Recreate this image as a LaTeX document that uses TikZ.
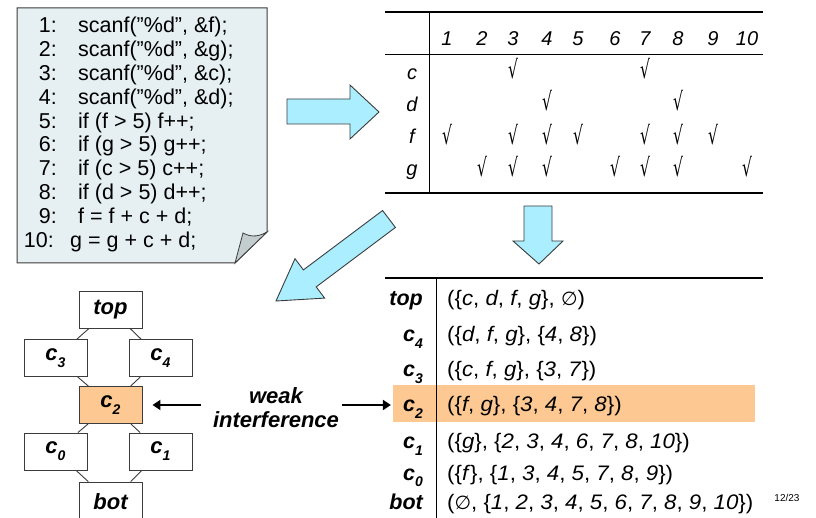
\documentclass[tikz,border=0pt]{standalone}
\usepackage{fontspec}
\setmainfont{Liberation Sans}
\newfontfamily\codefont{Liberation Sans}
\newfontfamily\valfont[FakeStretch=1.06]{Liberation Sans}
\newfontfamily\symfont{DejaVu Sans}
\newfontfamily\chkfont[FakeStretch=0.62]{DejaVu Sans}
\usetikzlibrary{arrows.meta}
\definecolor{boxfill}{RGB}{230,240,242}
\definecolor{flapfill}{RGB}{195,205,206}
\definecolor{arrfill}{RGB}{170,238,255}
\definecolor{hiorange}{RGB}{253,200,145}
\definecolor{edgegray}{RGB}{60,60,60}
\newcommand\lsub[1]{\raisebox{-0.32em}{\fontsize{14}{14}\selectfont #1}}
\newcommand\iv[1]{\textit{#1}}
\newcommand\emptyst{{\symfont\fontsize{19}{19}\selectfont ∅}}
\begin{document}
\begin{tikzpicture}[x=1pt,y=-1pt,
  codenum/.style={anchor=base east, inner sep=0, font=\codefont\fontsize{21.5}{22}\selectfont},
  codeline/.style={anchor=base west, inner sep=0, font=\codefont\fontsize{21.5}{22}\selectfont},
  hdr/.style={anchor=base, inner sep=0, font=\fontsize{20}{20}\selectfont\itshape},
  chkmark/.style={anchor=base, inner sep=0, font=\chkfont\fontsize{25}{25}\selectfont},
  latbox/.style={draw=edgegray, line width=0.9, fill=white, minimum width=63, minimum height=37, inner sep=0, font=\fontsize{22}{22}\selectfont\bfseries\itshape},
  latline/.style={draw=edgegray, line width=0.9},
  tlab/.style={anchor=base east, inner sep=0, font=\fontsize{21.5}{22}\selectfont\bfseries\itshape},
  tval/.style={anchor=base west, inner sep=0, font=\valfont\fontsize{21}{22}\selectfont},
  blockarrow/.style={draw=edgegray, line width=0.9, fill=arrfill, line join=miter},
  warrow/.style={line width=2.6, -{Triangle[length=8,width=10]}},
  thickrule/.style={line width=2},
  thinrule/.style={line width=0.9}
]
\useasboundingbox (0,0) rectangle (816,518);
\clip (0,0) rectangle (816,518);

% ---------- code sheet ----------
\path[draw=edgegray, line width=1, fill=boxfill] (17,8) -- (267,8) -- (267,232) -- (235,263) -- (17,263) -- cycle;
\path[draw=edgegray, line width=0.8, fill=flapfill] (235,263) -- (243,233) .. controls (252,238) and (260,236) .. (267,232) -- cycle;
\foreach \n/\t [count=\i from 0] in {
  1/{scanf(”\%d”, \&f);},
  2/{scanf(”\%d”, \&g);},
  3/{scanf(”\%d”, \&c);},
  4/{scanf(”\%d”, \&d);},
  5/{if (f > 5) f++;},
  6/{if (g > 5) g++;},
  7/{if (c > 5) c++;},
  8/{if (d > 5) d++;},
  9/{f = f + c + d;}} {
  \node[codenum] (num\n) at (57,33+23.8*\i) {\n:};
  \node[codeline] (code\n) at (78,33+23.8*\i) {\t};
}
\node[codenum] (num10) at (54,33+23.8*9) {10:};
\node[codeline] (code10) at (70,33+23.8*9) {g = g + c + d;};

% ---------- block arrows ----------
\path[blockarrow] (287,99) -- (350,99) -- (350,85) -- (379,112) -- (350,139) -- (350,124) -- (287,124) -- cycle;
\path[blockarrow] (524,206) -- (552,206) -- (552,241) -- (563,241) -- (539,264) -- (513,241) -- (524,241) -- cycle;
\path[blockarrow] (382.6,210.5) -- (303.4,269.9) -- (295.0,258.7) -- (276,301) -- (324.6,298.1) -- (316.2,286.9) -- (395.4,227.5) -- cycle;

% ---------- top table ----------
\draw[thickrule] (385,12) -- (763,12);
\draw[thinrule] (385,54) -- (763,54);
\draw[thickrule] (385,193) -- (763,193);
\draw[thinrule] (429,12) -- (429,193);
\foreach \c/\x in {1/447,2/482,3/513,4/547,5/578,6/615,7/645,8/678,9/713,10/747} {
  \node[hdr] (h\c) at (\x,46) {\c};
}
\foreach \r/\y in {c/80,d/112,f/144,g/176} {
  \node[hdr] (r\r) at (412,\y) {\r};
}
\foreach \c in {3,7} { \node[chkmark] (kc\c) at (h\c |- 0,79) {√}; }
\foreach \c in {4,8} { \node[chkmark] (kd\c) at (h\c |- 0,111) {√}; }
\foreach \c in {1,3,4,5,7,8,9} { \node[chkmark] (kf\c) at (h\c |- 0,145) {√}; }
\foreach \c in {2,3,4,6,7,8,10} { \node[chkmark] (kg\c) at (h\c |- 0,177) {√}; }

% ---------- lattice ----------
\node[latbox] (top) at (110.5,309.5) {top};
\node[latbox] (c3) at (55.5,358) {c\lsub{3}};
\node[latbox] (c4) at (160.5,358) {c\lsub{4}};
\node[latbox, fill=hiorange] (c2) at (110.5,405) {c\lsub{2}};
\node[latbox] (c0) at (55.5,451.5) {c\lsub{0}};
\node[latbox] (c1) at (160.5,451.5) {c\lsub{1}};
\node[latbox, minimum height=40] (bot) at (110.5,502) {bot};
\draw[latline] (top) -- (c3);
\draw[latline] (top) -- (c4);
\draw[latline] (c3) -- (c2);
\draw[latline] (c4) -- (c2);
\draw[latline] (c2) -- (c0);
\draw[latline] (c2) -- (c1);
\draw[latline] (c0) -- (bot);
\draw[latline] (c1) -- (bot);

% ---------- weak interference ----------
\node[inner sep=0, align=center, font=\fontsize{22}{24}\selectfont\bfseries\itshape] (wi) at (276,408) {weak\\interference};

% ---------- bottom table ----------
\fill[hiorange] (393,385) rectangle (755,422);
\draw[thickrule] (385,278) -- (763,278);
\draw[thinrule] (436,278) -- (436,520);
\node[tlab] (ltop) at (423,306) {top};
\node[tlab] (lc4) at (423,341.7) {c\lsub{4}};
\node[tlab] (lc3) at (423,376.7) {c\lsub{3}};
\node[tlab] (lc2) at (423,411.7) {c\lsub{2}};
\node[tlab] (lc1) at (423,448.3) {c\lsub{1}};
\node[tlab] (lc0) at (423,480) {c\lsub{0}};
\node[tlab] (lbot) at (423,509.3) {bot};
\node[tval] (vtop) at (447,306) {(\{\iv{c}, \iv{d}, \iv{f}, \iv{g}\}, \emptyst)};
\node[tval] (vc4) at (447,341.7) {(\{\iv{d}, \iv{f}, \iv{g}\}, \{\iv{4}, \iv{8}\})};
\node[tval] (vc3) at (447,376.7) {(\{\iv{c}, \iv{f}, \iv{g}\}, \{\iv{3}, \iv{7}\})};
\node[tval] (vc2) at (447,411.7) {(\{\iv{f}, \iv{g}\}, \{\iv{3}, \iv{4}, \iv{7}, \iv{8}\})};
\node[tval] (vc1) at (447,448.3) {(\{\iv{g}\}, \{\iv{2}, \iv{3}, \iv{4}, \iv{6}, \iv{7}, \iv{8}, \iv{10}\})};
\node[tval] (vc0) at (447,480) {(\{\iv{f}\}, \{\iv{1}, \iv{3}, \iv{4}, \iv{5}, \iv{7}, \iv{8}, \iv{9}\})};
\node[tval] (vbot) at (447,509.3) {(\emptyst, \{\iv{1}, \iv{2}, \iv{3}, \iv{4}, \iv{5}, \iv{6}, \iv{7}, \iv{8}, \iv{9}, \iv{10}\})};
\node[inner sep=0, font=\fontsize{10}{10}\selectfont] (pg) at (787,498) {12/23};

% ---------- interference arrows ----------
\draw[warrow, shorten <=12pt, shorten >=10pt] (wi.west |- c2) -- (c2.east);
\draw[warrow, shorten <=3pt, shorten >=12pt] (wi.east |- c2) -- (lc2.west |- c2);
\end{tikzpicture}
\end{document}
